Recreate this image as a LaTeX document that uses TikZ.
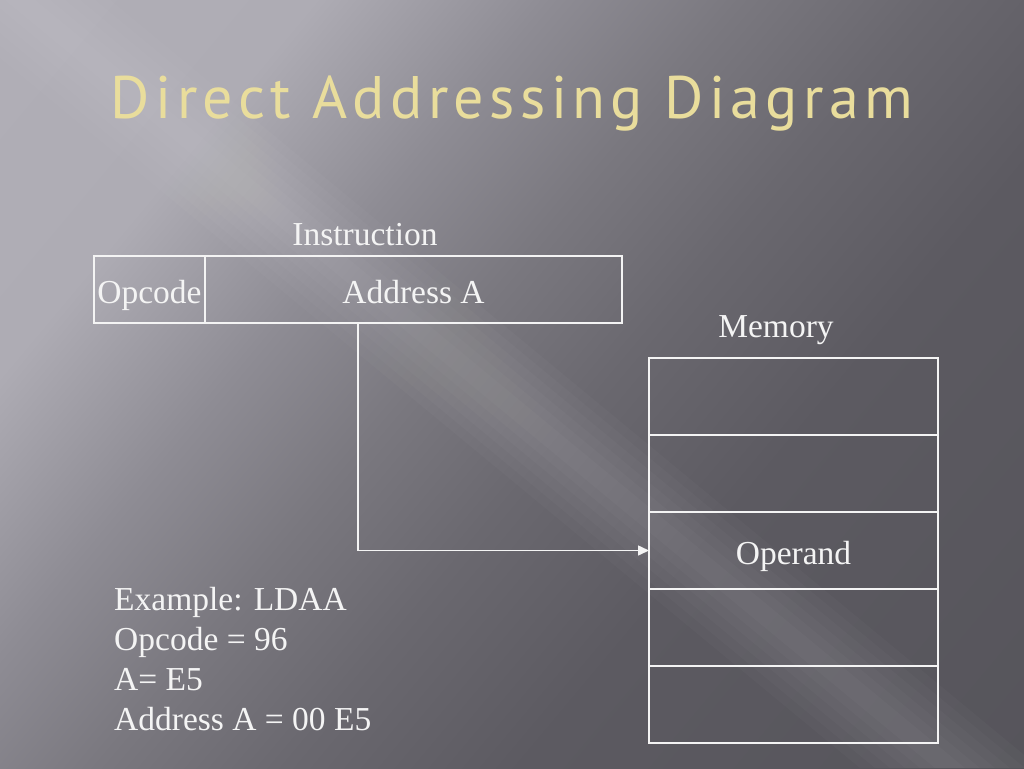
\documentclass[tikz,border=0pt]{standalone}
\usepackage{fontspec}
\setmainfont{Liberation Serif}
\newfontfamily\titlefont[LetterSpace=9]{PT Sans}
\usetikzlibrary{arrows.meta,positioning}

\definecolor{titlegold}{HTML}{E9DD9C}
\definecolor{ink}{HTML}{F4F4F4}

\pgfdeclarehorizontalshading{slidebg}{100bp}{color(0bp)=(rgb,255:red,179;green,177;blue,185);
  color(28bp)=(rgb,255:red,174;green,172;blue,180); color(38bp)=(rgb,255:red,142;green,140;blue,148);
  color(46bp)=(rgb,255:red,122;green,120;blue,127); color(54bp)=(rgb,255:red,106;green,104;blue,111);
  color(64bp)=(rgb,255:red,92;green,90;blue,97); color(100bp)=(rgb,255:red,82;green,81;blue,87)}

\tikzset{
  cell/.style={draw=ink, line width=1.5pt, outer sep=0pt, inner sep=0pt, minimum height=67pt,
    text=ink, font=\fontsize{33.5}{40}\selectfont, text height=27pt, text depth=0pt},
  memcell/.style={cell, minimum width=289pt, minimum height=77pt},
  lbl/.style={text=ink, font=\fontsize{33.5}{40}\selectfont, inner sep=0pt},
  heading/.style={font=\titlefont\fontsize{60}{64}\selectfont, anchor=base},
  wire/.style={draw=ink, line width=1.5pt},
}

\begin{document}
\begin{tikzpicture}[x=1pt,y=-1pt]
  \useasboundingbox (0,0) rectangle (1024,768);
  % slide background
  \shade[shading=slidebg, shading angle=-40] (0,0) rectangle (1024,768);
  \foreach \w in {15,30,...,90}
    \fill[white,opacity=0.025] (20-\w,0) -- (20+\w,0) -- (950+\w,768) -- (950-\w,768) -- cycle;

  % title
  \node (title) [heading, text=titlegold] at (512,118) {Direct Addressing Diagram};

  % instruction word
  \node (opcode) [cell, minimum width=111pt, anchor=north west] at (94,256) {Opcode};
  \node (addr) [cell, minimum width=417pt, right=0pt of opcode] {Address A};
  \node (instr) [lbl, anchor=base] at (365,245) {Instruction};

  % memory
  \node (memlbl) [lbl, anchor=base] at (776,337) {Memory};
  \foreach \i/\txt in {1/{},2/{},3/Operand,4/{},5/{}}
    \node (mem\i) [memcell, anchor=north west] at (649,{358+77*(\i-1)}) {\txt};

  % address points at operand
  \coordinate (tap) at ([xshift=153pt]addr.south west);
  \draw[wire, -{Triangle[length=11pt,width=10pt]}] (tap) |- (mem3.west);

  % example
  \foreach \t [count=\k from 0] in {Example: LDAA, Opcode = 96, A= E5, Address A = 00 E5}
    \node (ex\k) [lbl, anchor=base west] at (114,{610+40*\k}) {\t};
\end{tikzpicture}
\end{document}
